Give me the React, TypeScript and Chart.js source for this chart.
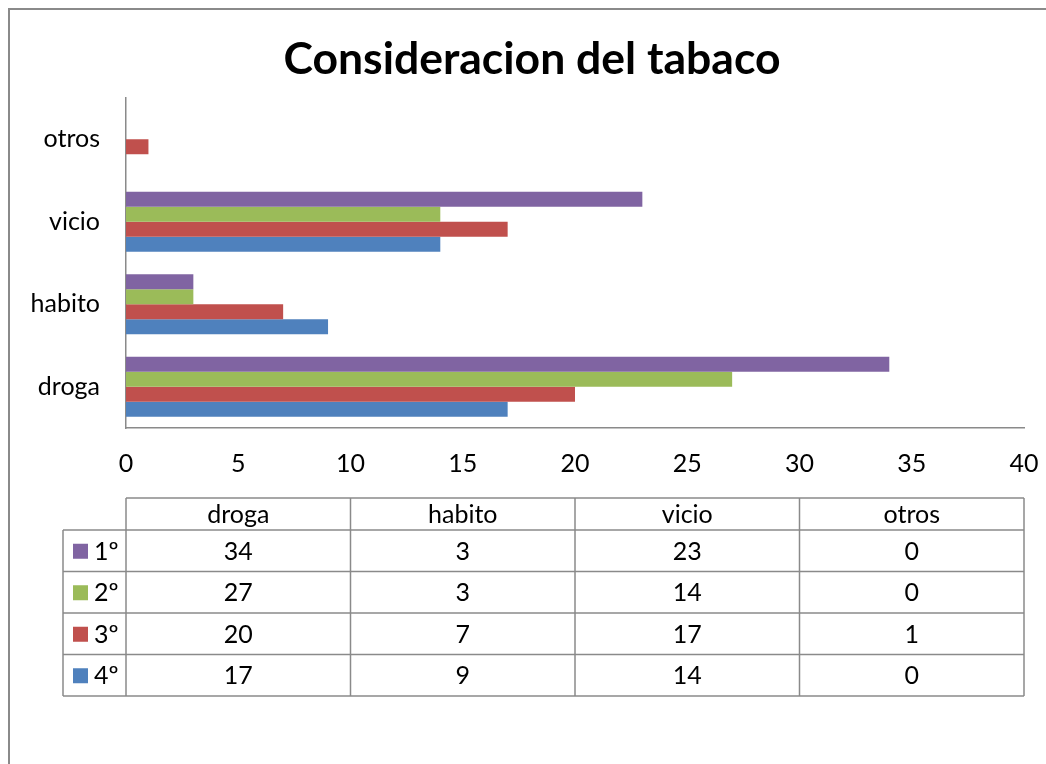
import React, { useEffect, useRef } from 'react';
import { Chart, registerables } from 'chart.js';

Chart.register(...registerables);

const chartTitle = 'Consideracion del tabaco';
const categories = ['droga', 'habito', 'vicio', 'otros'];
const seriesNames = ['1º', '2º', '3º', '4º'];
const values1 = [34, 3, 23, 0];
const values2 = [27, 3, 14, 0];
const values3 = [20, 7, 17, 1];
const values4 = [17, 9, 14, 0];
const seriesColors = ['#8064A2', '#9BBB59', '#C0504D', '#4F81BD'];
const xMin = 0;
const xMax = 40;
const xStep = 5;

const FONT = 'Lato';
const LINE = '#8a8a8a';
const TEXT_SIZE = 25;

const framePlugin = {
  id: 'frame',
  beforeDraw(chart: any) {
    const { ctx, width, height } = chart;
    ctx.save();
    ctx.fillStyle = '#ffffff';
    ctx.fillRect(0, 0, width, height);
    ctx.strokeStyle = LINE;
    ctx.lineWidth = 2;
    ctx.beginPath();
    ctx.moveTo(9, height);
    ctx.lineTo(9, 9);
    ctx.lineTo(width, 9);
    ctx.stroke();
    ctx.fillStyle = '#000000';
    ctx.font = `bold 44.5px ${FONT}`;
    ctx.textAlign = 'center';
    ctx.textBaseline = 'middle';
    ctx.fillText(chartTitle, 532, 60);
    ctx.restore();
  },
};

const tablePlugin = {
  id: 'dataTable',
  afterDraw(chart: any) {
    const { ctx, chartArea } = chart;
    const n = categories.length;
    const left = chartArea.left;
    const right = chartArea.right;
    const colW = (right - left) / n;
    const headerTop = 498;
    const headerH = 32;
    const rowH = 41.5;
    const legendLeft = 63;
    const datasets = chart.data.datasets;
    const bodyTop = headerTop + headerH;
    const bottom = bodyTop + rowH * datasets.length;

    ctx.save();
    ctx.strokeStyle = LINE;
    ctx.lineWidth = 1.5;
    ctx.beginPath();
    ctx.moveTo(left, headerTop);
    ctx.lineTo(right, headerTop);
    for (let i = 0; i <= datasets.length; i++) {
      const y = bodyTop + rowH * i;
      ctx.moveTo(legendLeft, y);
      ctx.lineTo(right, y);
    }
    ctx.moveTo(legendLeft, bodyTop);
    ctx.lineTo(legendLeft, bottom);
    for (let c = 0; c <= n; c++) {
      const x = left + colW * c;
      ctx.moveTo(x, headerTop);
      ctx.lineTo(x, bottom);
    }
    ctx.stroke();

    ctx.fillStyle = '#000000';
    ctx.font = `${TEXT_SIZE}px ${FONT}`;
    ctx.textAlign = 'center';
    ctx.textBaseline = 'middle';
    for (let c = 0; c < n; c++) {
      ctx.fillText(categories[c], left + colW * (c + 0.5), headerTop + headerH / 2 + 1);
    }
    datasets.forEach((ds: any, r: number) => {
      const cy = bodyTop + rowH * (r + 0.5) + 1;
      for (let c = 0; c < n; c++) {
        ctx.fillStyle = '#000000';
        ctx.textAlign = 'center';
        ctx.fillText(String(ds.data[c]), left + colW * (c + 0.5), cy);
      }
      ctx.fillStyle = ds.backgroundColor;
      ctx.fillRect(legendLeft + 10, cy - 8, 15, 15);
      ctx.fillStyle = '#000000';
      ctx.textAlign = 'left';
      ctx.fillText(ds.label, legendLeft + 31, cy);
    });
    ctx.restore();
  },
};

export default function App() {
  const canvasRef = useRef<HTMLCanvasElement | null>(null);

  useEffect(() => {
    if (!canvasRef.current) return;
    const seriesValues = [values1, values2, values3, values4];
    const chart = new Chart(canvasRef.current, {
      type: 'bar',
      data: {
        labels: categories,
        datasets: seriesNames.map((name, i) => ({
          label: name,
          data: seriesValues[i],
          backgroundColor: seriesColors[i],
          borderWidth: 0,
          barPercentage: 1,
          categoryPercentage: 0.727,
        })),
      },
      options: {
        indexAxis: 'y',
        animation: false,
        responsive: false,
        maintainAspectRatio: false,
        layout: { padding: { left: 0, top: 98, right: 22, bottom: 276 } },
        plugins: {
          legend: { display: false },
          tooltip: { enabled: false },
          title: { display: false },
        },
        scales: {
          x: {
            type: 'linear',
            min: xMin,
            max: xMax,
            ticks: { stepSize: xStep, color: '#000000', font: { family: FONT, size: TEXT_SIZE }, padding: 21 },
            grid: { display: false, drawTicks: false },
            border: { display: true, color: LINE, width: 1.5 },
            afterFit(scale: any) {
              scale.height = 60;
              scale.paddingLeft = 0;
              scale.paddingRight = 0;
            },
          },
          y: {
            type: 'category',
            reverse: true,
            ticks: { color: '#000000', font: { family: FONT, size: TEXT_SIZE }, padding: 26 },
            grid: { display: false, drawTicks: false },
            border: { display: true, color: LINE, width: 1.5 },
            afterFit(scale: any) {
              scale.width = 126;
              scale.paddingTop = 0;
              scale.paddingBottom = 0;
            },
          },
        },
      },
      plugins: [framePlugin, tablePlugin],
    });
    return () => chart.destroy();
  }, []);

  return (
    <div style={{ position: 'fixed', left: 0, top: 0, width: 1046, height: 764 }}>
      <canvas ref={canvasRef} width={1046} height={764} style={{ display: 'block' }} />
    </div>
  );
}
